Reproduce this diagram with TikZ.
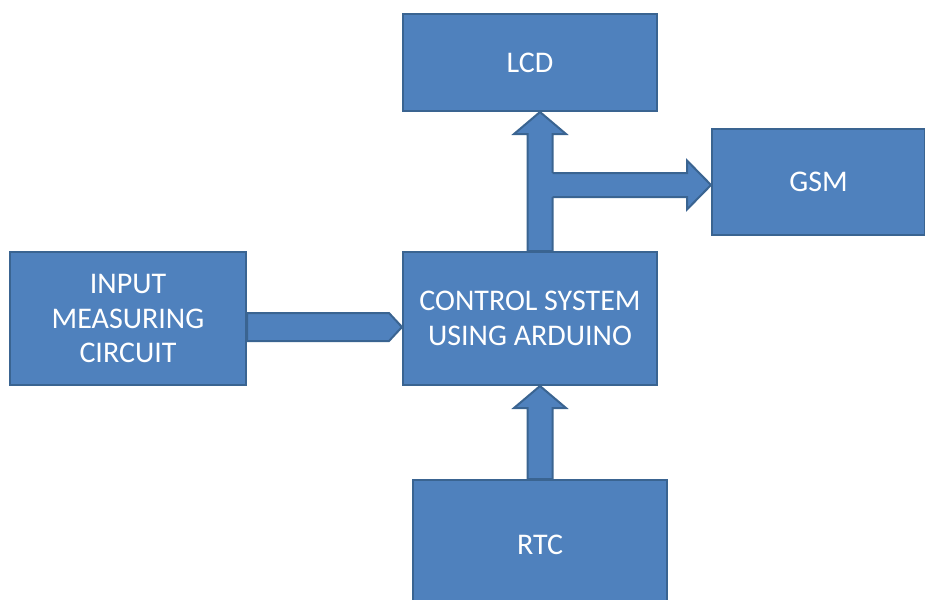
\documentclass[tikz,border=0pt]{standalone}
\usepackage{fontspec}
\setmainfont{Carlito}
\usetikzlibrary{positioning,calc}
\definecolor{boxblue}{HTML}{4F81BD}
\definecolor{edgeblue}{HTML}{3A6491}

\begin{document}
\begin{tikzpicture}[x=1pt,y=-1pt,
        blockbox/.style={rectangle, draw=edgeblue, fill=boxblue, line width=2pt, text=white, align=center, inner sep=0pt, font=\fontsize{30}{34.5}\selectfont},
        blockarrow/.style={draw=edgeblue, fill=boxblue, line width=2pt, line join=miter},
    ]
    \useasboundingbox (0,0) rectangle (925,599);

    \node[blockbox, minimum width=254pt, minimum height=133pt] (control) at (530,318.5) {CONTROL SYSTEM\\USING ARDUINO};
    \node[blockbox, minimum width=254pt, minimum height=97pt]  (lcd)     at (530,62.5)  {LCD};
    \node[blockbox, minimum width=213pt, minimum height=106pt] (gsm)     at (818.5,182) {GSM};
    \node[blockbox, minimum width=236pt, minimum height=133pt] (input)   at (128,318.5) {INPUT\\MEASURING\\CIRCUIT};
    \node[blockbox, minimum width=254pt, minimum height=130pt] (rtc)     at (540,545)   {RTC};

    % control -> lcd
    \path[blockarrow] let \p1=([xshift=10pt]control.north), \p2=([xshift=10pt]lcd.south) in
        (\x1-12.5pt,\y1) -- (\x1-12.5pt,\y2-22pt) -- (\x1-26pt,\y2-22pt) -- (\x2,\y2)
        -- (\x1+26pt,\y2-22pt) -- (\x1+12.5pt,\y2-22pt) -- (\x1+12.5pt,\y1) -- cycle;
    % branch -> gsm
    \fill[boxblue] let \p1=([xshift=22.5pt]control.north), \p2=([yshift=-3pt]gsm.west) in
        (\x1-3pt,\y2+12pt) -- (\x2-24pt,\y2+12pt) -- (\x2-24pt,\y2+24.5pt) -- (\x2,\y2)
        -- (\x2-24pt,\y2-24.5pt) -- (\x2-24pt,\y2-12pt) -- (\x1-3pt,\y2-12pt) -- cycle;
    \draw[blockarrow, fill=none] let \p1=([xshift=22.5pt]control.north), \p2=([yshift=-3pt]gsm.west) in
        (\x1,\y2+12pt) -- (\x2-24pt,\y2+12pt) -- (\x2-24pt,\y2+24.5pt) -- (\x2,\y2)
        -- (\x2-24pt,\y2-24.5pt) -- (\x2-24pt,\y2-12pt) -- (\x1,\y2-12pt);
    % input -> control
    \path[blockarrow] let \p1=([yshift=-8.5pt]input.east), \p2=(control.west) in
        (\x1,\y1+14pt) -- (\x2-13pt,\y1+14pt) -- (\x2,\y1) -- (\x2-13pt,\y1-14pt) -- (\x1,\y1-14pt) -- cycle;
    % rtc -> control
    \path[blockarrow] let \p1=(rtc.north), \p2=(control.south) in
        (\x1-12.5pt,\y1) -- (\x1-12.5pt,\y2-22pt) -- (\x1-26pt,\y2-22pt) -- (\x1,\y2)
        -- (\x1+26pt,\y2-22pt) -- (\x1+12.5pt,\y2-22pt) -- (\x1+12.5pt,\y1) -- cycle;
\end{tikzpicture}
\end{document}
